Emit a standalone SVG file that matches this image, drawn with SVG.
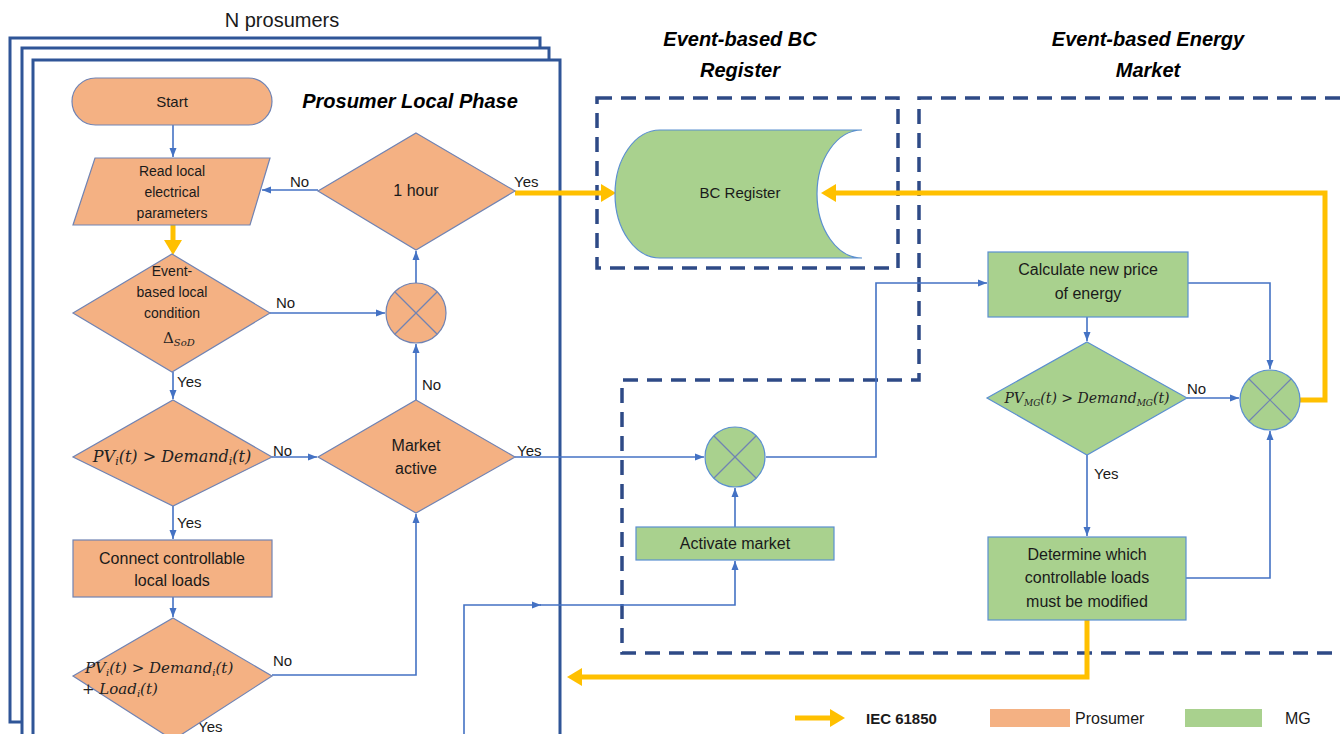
<svg xmlns="http://www.w3.org/2000/svg" width="1340" height="734" viewBox="0 0 1340 734">
<style>
.frame{fill:#fff;stroke:#2F5597;stroke-width:3}
.dash{fill:none;stroke:#2E4A86;stroke-width:3.5;stroke-dasharray:15 9}
.pro{fill:#F4B183;stroke:#7083B3;stroke-width:1.2}
.mg{fill:#A9D18E;stroke:#5B8FD0;stroke-width:1.2}
.c{fill:none;stroke:#4472C4;stroke-width:1.6}
.y{fill:none;stroke:#FFC000;stroke-width:5}
.x{stroke:#7083B3;stroke-width:1.2}
.t{font-family:"Liberation Sans",Arial,sans-serif;fill:#1a1a1a;text-anchor:middle}
.s14{font-size:14px}
.s15{font-size:15px}
.s16{font-size:16px}
.lb{font-family:"Liberation Sans",Arial,sans-serif;font-size:15px;fill:#1a1a1a}
.h{font-family:"Liberation Sans",Arial,sans-serif;font-size:20px;font-weight:bold;font-style:italic;fill:#000;text-anchor:middle}
.m{font-family:"DejaVu Serif","Liberation Serif",serif;font-style:italic;font-size:16px;fill:#222}
</style>
<defs>
<marker id="ab" markerWidth="10" markerHeight="10" refX="9" refY="5" orient="auto" markerUnits="userSpaceOnUse"><path d="M0,1.5 L9,5 L0,8.5 Z" fill="#4472C4"/></marker>
<marker id="ay" markerWidth="20" markerHeight="20" refX="6" refY="9" orient="auto" markerUnits="userSpaceOnUse"><path d="M0,0 L15,9 L0,18 Z" fill="#FFC000"/></marker>
</defs>

<text x="282" y="27" class="t" style="font-size:20px">N prosumers</text>
<g id="frames">
<rect class="frame" x="10" y="38" width="530" height="684"/>
<rect class="frame" x="22" y="48" width="527" height="690"/>
<rect class="frame" x="33" y="60" width="527" height="690"/>
</g>
<text x="410" y="108" class="h">Prosumer Local Phase</text>

<text x="740" y="46" class="h">Event-based BC</text>
<text x="740" y="77" class="h">Register</text>
<text x="1148" y="46" class="h">Event-based Energy</text>
<text x="1148" y="77" class="h">Market</text>

<g id="regions">
<rect class="dash" x="597" y="98" width="301" height="170"/>
<path class="dash" d="M1340,98 H919 V380 H622 V653 H1340"/>
</g>

<g id="connectors">
<path class="c" d="M173,125 V157" marker-end="url(#ab)"/>
<path class="y" d="M173,225 V246" marker-end="url(#ay)"/>
<path class="c" d="M318,190 H262" marker-end="url(#ab)"/>
<path class="y" d="M515,193 H607" marker-end="url(#ay)"/>
<path class="c" d="M270,313 H385" marker-end="url(#ab)"/>
<path class="c" d="M416,283 V251" marker-end="url(#ab)"/>
<path class="c" d="M173,372 V399" marker-end="url(#ab)"/>
<path class="c" d="M272,457 H317" marker-end="url(#ab)"/>
<path class="c" d="M416,400 V344" marker-end="url(#ab)"/>
<path class="c" d="M515,457 H704" marker-end="url(#ab)"/>
<path class="c" d="M173,506 V539" marker-end="url(#ab)"/>
<path class="c" d="M173,597 V617" marker-end="url(#ab)"/>
<path class="c" d="M272,675 H416 V514" marker-end="url(#ab)"/>
<path class="c" d="M464,734 V605 H541" marker-end="url(#ab)"/>
<path class="c" d="M540,605 H735 V561" marker-end="url(#ab)"/>
<path class="c" d="M735,527 V488" marker-end="url(#ab)"/>
<path class="c" d="M766,457 H876 V283 H987" marker-end="url(#ab)"/>
<path class="c" d="M1087,317 V341" marker-end="url(#ab)"/>
<path class="c" d="M1187,398 H1239" marker-end="url(#ab)"/>
<path class="c" d="M1188,283 H1270 V369" marker-end="url(#ab)"/>
<path class="c" d="M1087,455 V536" marker-end="url(#ab)"/>
<path class="c" d="M1186,578 H1270 V431" marker-end="url(#ab)"/>
<path class="y" d="M1300,400 H1325 V193 H830" marker-end="url(#ay)"/>
<path class="y" d="M1087,620 V677 H576" marker-end="url(#ay)"/>
</g>

<g id="labels">
<text x="290" y="187" class="lb">No</text>
<text x="514" y="187" class="lb">Yes</text>
<text x="276" y="308" class="lb">No</text>
<text x="177" y="387" class="lb">Yes</text>
<text x="422" y="390" class="lb">No</text>
<text x="273" y="456" class="lb">No</text>
<text x="517" y="456" class="lb">Yes</text>
<text x="177" y="528" class="lb">Yes</text>
<text x="273" y="666" class="lb">No</text>
<text x="198" y="732" class="lb">Yes</text>
<text x="1187" y="394" class="lb">No</text>
<text x="1094" y="479" class="lb">Yes</text>
</g>

<g id="start">
<rect class="pro" x="72" y="78" width="200" height="47" rx="23.5"/>
<text x="172" y="107" class="t s15">Start</text>
</g>
<g id="read">
<polygon class="pro" points="95,158 270,158 250,225 73,225"/>
<text x="172" y="176" class="t s14">Read local</text>
<text x="172" y="197" class="t s14">electrical</text>
<text x="172" y="218" class="t s14">parameters</text>
</g>
<g id="hour">
<polygon class="pro" points="416,133 515,191 416,250 318,191"/>
<text x="416" y="196" class="t s16">1 hour</text>
</g>
<g id="event">
<polygon class="pro" points="172,254 270,313 172,372 73,313"/>
<text x="172" y="276" class="t s14">Event-</text>
<text x="172" y="297" class="t s14">based local</text>
<text x="172" y="318" class="t s14">condition</text>
<text x="163" y="343" class="m" style="font-style:normal;font-size:15px">Δ<tspan font-size="10" dy="3" font-style="italic">SoD</tspan></text>
</g>
<g id="mergeLocal">
<circle class="pro" cx="416" cy="313" r="30"/>
<line class="x" x1="395" y1="292" x2="437" y2="334"/>
<line class="x" x1="437" y1="292" x2="395" y2="334"/>
</g>
<g id="pvDemand">
<polygon class="pro" points="173,400 272,457 173,506 73,457"/>
<text x="172" y="462" class="m" text-anchor="middle">PV<tspan font-size="11" dy="3">i</tspan><tspan dy="-3">(t) &gt; Demand</tspan><tspan font-size="11" dy="3">i</tspan><tspan dy="-3">(t)</tspan></text>
</g>
<g id="market">
<polygon class="pro" points="416,400 515,457 416,513 318,457"/>
<text x="416" y="451" class="t s16">Market</text>
<text x="416" y="474" class="t s16">active</text>
</g>
<g id="connect">
<rect class="pro" x="73" y="540" width="199" height="57"/>
<text x="172" y="564" class="t s16">Connect controllable</text>
<text x="172" y="586" class="t s16">local loads</text>
</g>
<g id="pvDemandLoad">
<polygon class="pro" points="173,618 272,676 173,740 73,676"/>
<text x="85" y="673" class="m" style="font-size:15px">PV<tspan font-size="10" dy="3">i</tspan><tspan dy="-3">(t) &gt; Demand</tspan><tspan font-size="10" dy="3">i</tspan><tspan dy="-3">(t)</tspan></text>
<text x="82" y="694" class="m" style="font-size:15px">+ Load<tspan font-size="10" dy="3">i</tspan><tspan dy="-3">(t)</tspan></text>
</g>

<g id="bcRegister">
<path class="mg" d="M660,130 L862,130 A45,64 0 0 0 862,258 L660,258 A45,64 0 0 1 660,130 Z"/>
<text x="740" y="198" class="t s15">BC Register</text>
</g>
<g id="calcPrice">
<rect class="mg" x="988" y="252" width="200" height="65"/>
<text x="1088" y="275" class="t s16">Calculate new price</text>
<text x="1088" y="299" class="t s16">of energy</text>
</g>
<g id="pvMG">
<polygon class="mg" points="1087,342 1187,398 1087,455 987,398"/>
<text x="1087" y="403" class="m" text-anchor="middle" style="font-size:14px">PV<tspan font-size="9" dy="3">MG</tspan><tspan dy="-3">(t) &gt; Demand</tspan><tspan font-size="9" dy="3">MG</tspan><tspan dy="-3">(t)</tspan></text>
</g>
<g id="mergeMG">
<circle class="mg" cx="1270" cy="400" r="30"/>
<line class="x" x1="1249" y1="379" x2="1291" y2="421"/>
<line class="x" x1="1291" y1="379" x2="1249" y2="421"/>
</g>
<g id="determine">
<rect class="mg" x="988" y="537" width="198" height="83"/>
<text x="1087" y="560" class="t s16">Determine which</text>
<text x="1087" y="583" class="t s16">controllable loads</text>
<text x="1087" y="607" class="t s16">must be modified</text>
</g>
<g id="mergeMarket">
<circle class="mg" cx="735" cy="457" r="30"/>
<line class="x" x1="714" y1="436" x2="756" y2="478"/>
<line class="x" x1="756" y1="436" x2="714" y2="478"/>
</g>
<g id="activate">
<rect class="mg" x="636" y="527" width="198" height="33"/>
<text x="735" y="549" class="t s16">Activate market</text>
</g>

<g id="legend">
<path class="y" d="M795,718 H836" marker-end="url(#ay)"/>
<text x="866" y="724" class="lb" style="font-weight:bold">IEC 61850</text>
<rect x="990" y="709" width="80" height="18" fill="#F4B183"/>
<text x="1075" y="724" class="lb" style="font-size:16px">Prosumer</text>
<rect x="1185" y="709" width="77" height="18" fill="#A9D18E"/>
<text x="1285" y="724" class="lb" style="font-size:16px">MG</text>
</g>
</svg>
